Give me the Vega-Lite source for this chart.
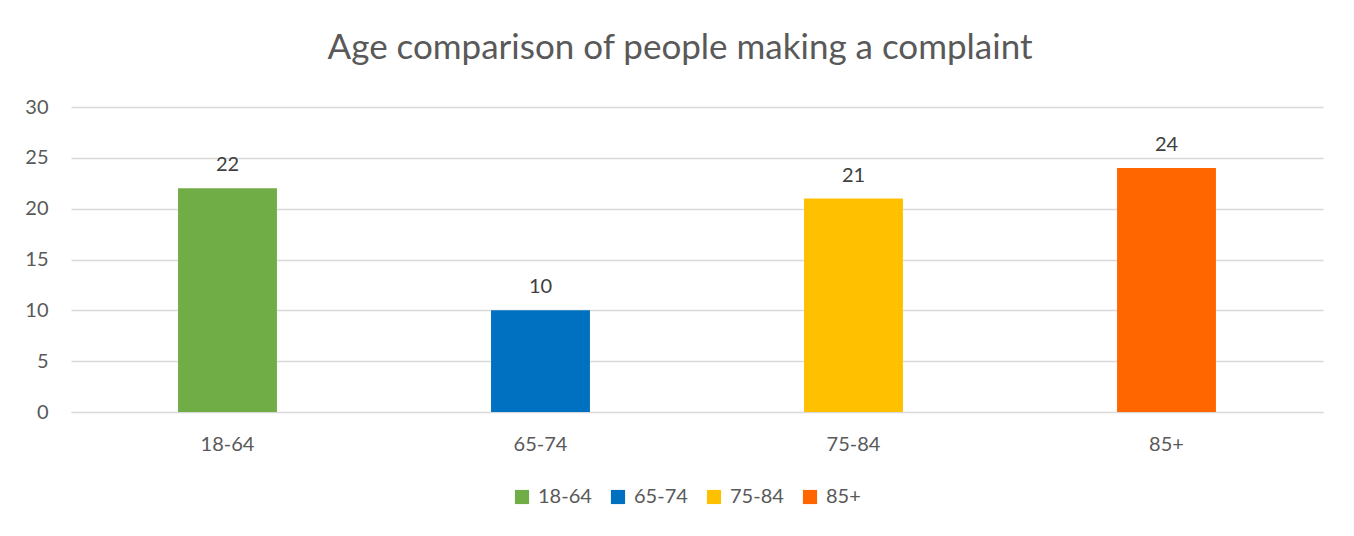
{
  "$schema": "https://vega.github.io/schema/vega-lite/v6.json",
  "width": 1252,
  "height": 305,
  "autosize": {"type": "none"},
  "padding": {"left": 71, "top": 107, "right": 31, "bottom": 124},
  "background": "white",
  "title": {
    "text": "Age comparison of people making a complaint",
    "font": "Lato",
    "fontSize": 35,
    "fontWeight": "normal",
    "color": "#595959",
    "anchor": "middle",
    "dx": -17,
    "offset": 31
  },
  "data": {
    "values": [
      {"age": "18-64", "count": 22},
      {"age": "65-74", "count": 10},
      {"age": "75-84", "count": 21},
      {"age": "85+", "count": 24}
    ]
  },
  "encoding": {
    "x": {
      "field": "age",
      "type": "nominal",
      "sort": null,
      "scale": {"paddingInner": 0.684, "paddingOuter": 0.342},
      "axis": {
        "title": null,
        "labelAngle": 0,
        "ticks": false,
        "domain": true,
        "domainColor": "#d9d9d9",
        "labelPadding": 22,
        "labelFont": "Lato",
        "labelFontSize": 20,
        "labelColor": "#595959"
      }
    },
    "y": {
      "field": "count",
      "type": "quantitative",
      "scale": {"domain": [0, 30]},
      "axis": {
        "title": null,
        "values": [0, 5, 10, 15, 20, 25, 30],
        "ticks": false,
        "domain": false,
        "gridColor": "#d9d9d9",
        "gridWidth": 1.5,
        "labelPadding": 23,
        "labelFont": "Lato",
        "labelFontSize": 20,
        "labelColor": "#595959"
      }
    }
  },
  "layer": [
    {
      "mark": {"type": "bar"},
      "encoding": {
        "color": {
          "field": "age",
          "type": "nominal",
          "sort": null,
          "scale": {
            "domain": ["18-64", "65-74", "75-84", "85+"],
            "range": ["#70AD47", "#0070C0", "#FFC000", "#FF6600"]
          },
          "legend": {
            "title": null,
            "orient": "none",
            "legendX": 441,
            "legendY": 380,
            "direction": "horizontal",
            "symbolType": "square",
            "symbolSize": 200,
            "symbolStrokeWidth": 0,
            "symbolOpacity": 1,
            "labelFont": "Lato",
            "labelFontSize": 20,
            "labelColor": "#595959",
            "columnPadding": 16,
            "labelOffset": 6
          }
        }
      }
    },
    {
      "mark": {
        "type": "text",
        "baseline": "bottom",
        "dy": -13,
        "font": "Lato",
        "fontSize": 20,
        "color": "#404040"
      },
      "encoding": {
        "text": {"field": "count", "type": "quantitative"}
      }
    }
  ],
  "config": {
    "view": {"stroke": null}
  }
}
